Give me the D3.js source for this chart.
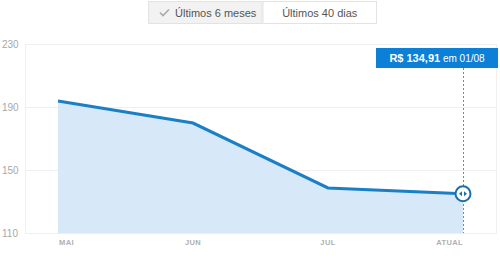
<!DOCTYPE html>
<html>
<head>
<meta charset="utf-8">
<script src="https://cdn.jsdelivr.net/npm/d3@7"></script>
<style>
  body { margin: 0; background: #fff; font-family: Arial, "Liberation Sans", sans-serif; }
  svg { display: block; }
</style>
</head>
<body>
<svg width="500" height="258"></svg>
<script>
const width = 500;
const height = 258;

const months = ['MAI', 'JUN', 'JUL', 'ATUAL'];
const prices = [193.8, 179.8, 138.6, 134.91];
const yTicks = [110, 150, 190, 230];
const buttons = ['Últimos 6 meses', 'Últimos 40 dias'];
const tipPrice = 'R$ 134,91';
const tipDate = 'em 01/08';

const renderChart = () => {
    const svg = d3.select('svg');

    // toggle buttons on top
    const btn = d3.scaleBand().domain(buttons).range([148, 377]);
    const b = svg.selectAll('.btn')
        .data(buttons)
        .enter().append('g')
        .attr('class', 'btn')
        .attr('transform', d => `translate(${btn(d)},1)`);
    b.append('rect')
        .attr('x', 0.5).attr('y', 0.5)
        .attr('width', btn.bandwidth() - 1).attr('height', 22)
        .attr('fill', (d, i) => i === 0 ? '#f2f2f2' : '#fff')
        .attr('stroke', '#e3e3e3');
    b.append('text')
        .attr('x', (d, i) => i === 0 ? 27 : btn.bandwidth() / 2)
        .attr('y', 15.5)
        .attr('text-anchor', (d, i) => i === 0 ? 'start' : 'middle')
        .attr('font-size', 11)
        .attr('fill', '#555')
        .text(d => d);
    b.filter((d, i) => i === 0).append('path')
        .attr('d', 'M12,11.5 L15,14.5 L21,8.5')
        .attr('fill', 'none')
        .attr('stroke', '#aaa')
        .attr('stroke-width', 1.6);

    // plot frame
    const left = 25, right = 497, top = 44, bottom = 233;
    svg.append('rect')
        .attr('x', left + 0.5).attr('y', top + 0.5)
        .attr('width', right - left - 1).attr('height', bottom - top)
        .attr('fill', 'none')
        .attr('stroke', '#f0f0f0');

    const x = d3.scalePoint().domain(months).range([58, 463]);
    const y = d3.scaleLinear().domain([110, 230]).range([bottom, top]);

    svg.selectAll('.grid')
        .data(yTicks)
        .enter().append('line')
        .attr('class', 'grid')
        .attr('x1', left).attr('x2', right)
        .attr('y1', d => Math.round(y(d)) + 0.5)
        .attr('y2', d => Math.round(y(d)) + 0.5)
        .attr('stroke', '#efefef');

    svg.selectAll('.ylab')
        .data(yTicks)
        .enter().append('text')
        .attr('class', 'ylab')
        .attr('x', 2)
        .attr('y', d => y(d) + 4)
        .attr('font-size', 10)
        .attr('fill', '#a8a8a8')
        .text(d => d);

    const pts = months.map((m, i) => ({ m, v: prices[i] }));

    svg.append('path')
        .datum(pts)
        .attr('fill', '#d7e9f8')
        .attr('d', d3.area().x(d => x(d.m)).y0(bottom).y1(d => y(d.v)));

    svg.append('path')
        .datum(pts)
        .attr('fill', 'none')
        .attr('stroke', '#1b7fc6')
        .attr('stroke-width', 3)
        .attr('d', d3.line().x(d => x(d.m)).y(d => y(d.v)));

    svg.selectAll('.xlab')
        .data(months)
        .enter().append('text')
        .attr('class', 'xlab')
        .attr('x', (d, i) => i === 0 ? x(d) + 1 : x(d))
        .attr('y', 245)
        .attr('text-anchor', (d, i) => i === 0 ? 'start' : i === months.length - 1 ? 'end' : 'middle')
        .attr('font-size', 7.5)
        .attr('font-weight', 'bold')
        .attr('letter-spacing', 0.4)
        .attr('fill', '#b0b0b0')
        .text(d => d);

    // current value marker
    const last = pts[pts.length - 1];
    const cx = x(last.m), cy = y(last.v);
    svg.append('line')
        .attr('x1', cx + 0.5).attr('x2', cx + 0.5)
        .attr('y1', 68).attr('y2', bottom)
        .attr('stroke', '#3fae7a')
        .attr('stroke-width', 1)
        .attr('stroke-dasharray', '2,2');

    svg.append('rect')
        .attr('x', 376).attr('y', 48)
        .attr('width', 122).attr('height', 20)
        .attr('fill', '#0b80d6');
    const tip = svg.append('text')
        .attr('x', 437).attr('y', 62)
        .attr('text-anchor', 'middle')
        .attr('fill', '#fff')
        .attr('font-size', 11);
    tip.append('tspan').attr('font-weight', 'bold').text(tipPrice);
    tip.append('tspan').attr('font-size', 10).text(' ' + tipDate);

    svg.append('circle')
        .attr('cx', cx).attr('cy', cy).attr('r', 7.5)
        .attr('fill', '#fff')
        .attr('stroke', '#1b6fae')
        .attr('stroke-width', 2);
    svg.append('path')
        .attr('d', `M${cx - 4},${cy} L${cx - 1},${cy - 2.5} L${cx - 1},${cy + 2.5} Z M${cx + 4},${cy} L${cx + 1},${cy - 2.5} L${cx + 1},${cy + 2.5} Z`)
        .attr('fill', '#1b6fae');
};

document.addEventListener('DOMContentLoaded', () => {
    renderChart();
});
</script>
</body>
</html>
